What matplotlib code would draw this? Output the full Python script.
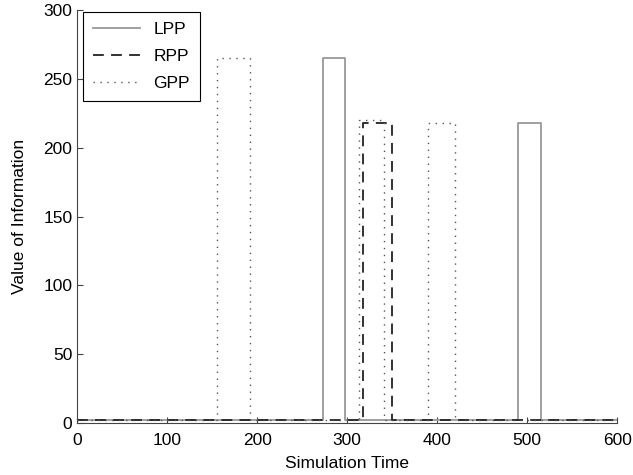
import numpy as np
import matplotlib
matplotlib.use('Agg')
import matplotlib.pyplot as plt

plt.rcParams['font.family'] = ['Liberation Sans', 'DejaVu Sans']

# pulses: (start, end, height)
base = 2
lpp_start = [273, 490]
lpp_end = [298, 515]
lpp_height = [265, 218]

rpp_start = [318]
rpp_end = [350]
rpp_height = [218]

gpp_start = [155, 313, 390]
gpp_end = [192, 341, 420]
gpp_height = [265, 220, 218]


def steps(starts, ends, heights):
    xs = [0]
    ys = [base]
    for s, e, h in zip(starts, ends, heights):
        xs += [s, s, e, e]
        ys += [base, h, h, base]
    xs.append(600)
    ys.append(base)
    return xs, ys


fig = plt.figure(figsize=(6.33, 4.75), dpi=100)
ax = fig.add_axes([0.122, 0.109, 0.853, 0.87])

x, y = steps(lpp_start, lpp_end, lpp_height)
ax.plot(x, y, color='#999999', lw=1.3, ls='-', label='LPP')
x, y = steps(rpp_start, rpp_end, rpp_height)
ax.plot(x, y, color='#222222', lw=1.3, ls=(0, (6, 4)), label='RPP')
x, y = steps(gpp_start, gpp_end, gpp_height)
ax.plot(x, y, color='#555555', lw=1.0, ls=(0, (1, 4)), label='GPP')

ax.set_xlim(0, 600)
ax.set_ylim(0, 300)
ax.set_xticks(np.arange(0, 601, 100))
ax.set_yticks(np.arange(0, 301, 50))
ax.tick_params(direction='in', labelsize=12.5, length=4, color='#444444')
ax.tick_params(axis='x', pad=7)
ax.spines['top'].set_visible(False)
ax.spines['right'].set_visible(False)
for s in ['left', 'bottom']:
    ax.spines[s].set_color('#444444')
ax.set_xlabel('Simulation Time', fontsize=12.5, labelpad=6)
ax.set_ylabel('Value of Information', fontsize=12.5, labelpad=12)

leg = ax.legend(loc='upper left', bbox_to_anchor=(0.011, 0.995), borderaxespad=0,
                fontsize=12.5, fancybox=False, framealpha=1,
                edgecolor='black', handlelength=2.7,
                borderpad=0.55, labelspacing=0.7)
leg.get_frame().set_linewidth(0.8)

plt.savefig('out.png')
